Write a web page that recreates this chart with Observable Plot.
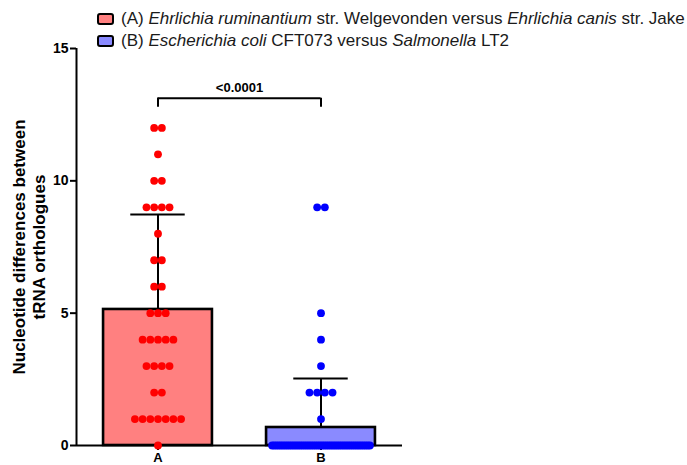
<!DOCTYPE html>
<html>
<head>
<meta charset="utf-8">
<script src="https://cdn.jsdelivr.net/npm/d3@7"></script>
<script src="https://cdn.jsdelivr.net/npm/@observablehq/plot@0.6"></script>
<style>
  html, body { margin: 0; padding: 0; background: #fff; }
  #wrap { position: relative; width: 687px; height: 465px; overflow: hidden; }
  #legend { position: absolute; left: 97px; top: 8px; font-family: "Liberation Sans", Arial, sans-serif; font-size: 17px; color: #1a1a1a; }
  .row { display: flex; align-items: center; height: 22px; white-space: nowrap; }
  .sw { width: 13px; height: 8px; border: 2px solid #000; border-radius: 3px; margin-right: 7px; box-sizing: content-box; }
</style>
</head>
<body>
<div id="wrap"></div>
<script>
// ---- data ----
const categories = ["A", "B"];
const legendLabels = [
  "(A) <i>Ehrlichia ruminantium</i> str. Welgevonden versus <i>Ehrlichia canis</i> str. Jake",
  "(B) <i>Escherichia coli</i> CFT073 versus <i>Salmonella</i> LT2"
];
const barFills = ["#ff8080", "#8a8aff"];
const dotColors = ["#ff0000", "#0000ff"];
// individual tRNA ortholog differences
const valuesA = [12,12,11,10,10,9,9,9,9,8,7,7,6,6,5,5,5,4,4,4,4,4,3,3,3,3,2,2,1,1,1,1,1,1,1,0];
const valuesB = [9,9,5,4,3,2,2,2,2,1].concat(Array(46).fill(0));
// bar height (mean) and error bar (SD)
const means = [5.14, 0.68];
const sds = [3.59, 1.85];
const yTicks = [0, 5, 10, 15];
const yLabel = "Nucleotide differences between\ntRNA orthologues";
const pLabel = "<0.0001";
const bracketY = 13.12;
const bracketDrop = 0.34;

// ---- derived tables ----
const groups = categories.map((c, i) => ({cat: c, pos: i + 1, mean: means[i], top: means[i] + sds[i], fill: barFills[i]}));
const halfBar = 0.334;       // bar half-width in x units
const dotStep = 0.0472;      // spacing of dots in a row
const maxRow = 0.6;          // max row spread
const dots = [];
[valuesA, valuesB].forEach((vals, gi) => {
  const byVal = d3.group(vals, v => v);
  for (const [v, arr] of byVal) {
    const n = arr.length;
    const s = n > 1 ? Math.min(dotStep, maxRow / (n - 1)) : 0;
    arr.forEach((_, j) => dots.push({x: gi + 1 + (j - (n - 1) / 2) * s, y: v, color: dotColors[gi]}));
  }
});

const chart = Plot.plot({
  width: 687,
  height: 465,
  marginLeft: 76,
  marginRight: 285,
  marginTop: 48,
  marginBottom: 20,
  style: {fontFamily: "'Liberation Sans', Arial, sans-serif", fontWeight: "bold", fontSize: "14px", color: "#000", background: "transparent"},
  x: {domain: [0.5, 2.5], axis: null},
  y: {domain: [0, 15], axis: null},
  marks: [
    // error bars (behind bars)
    Plot.ruleX(groups, {x: "pos", y1: "mean", y2: "top", stroke: "#000", strokeWidth: 2}),
    Plot.rectY(groups, {x1: d => d.pos - halfBar, x2: d => d.pos + halfBar, y1: 0, y2: "mean", fill: "fill", stroke: "#000", strokeWidth: 2.6}),
    Plot.ruleY(groups, {x1: d => d.pos - halfBar / 2, x2: d => d.pos + halfBar / 2, y: "top", stroke: "#000", strokeWidth: 2}),
    // axes
    Plot.ruleY([0], {stroke: "#000", strokeWidth: 2}),
    Plot.ruleX([0.5], {y1: 0, y2: 15, stroke: "#000", strokeWidth: 2}),
    Plot.axisY({ticks: yTicks, tickSize: 6, tickPadding: 2, strokeWidth: 2, fontSize: 14, label: null}),
    Plot.axisX({ticks: [1, 2], tickFormat: d => categories[d - 1], tickSize: 5, tickPadding: 2, strokeWidth: 2, fontSize: 13, label: null}),
    Plot.text([yLabel], {frameAnchor: "left", dx: -48, rotate: -90, fontSize: 17, lineHeight: 1.2, textAnchor: "middle", lineAnchor: "middle", fill: "#000"}),
    // dots
    Plot.dot(dots, {x: "x", y: "y", r: 3.9, fill: "color", stroke: null}),
    // significance bracket
    Plot.ruleY([bracketY], {x1: 1, x2: 2, stroke: "#000", strokeWidth: 2}),
    Plot.ruleX([1, 2], {x: d => d, y1: bracketY - bracketDrop, y2: bracketY, stroke: "#000", strokeWidth: 2}),
    Plot.text([pLabel], {x: 1.5, y: bracketY, dy: -6, fontSize: 13, fill: "#000", lineAnchor: "bottom"})
  ]
});

const wrap = document.getElementById("wrap");
wrap.appendChild(chart);
const legend = document.createElement("div");
legend.id = "legend";
legend.innerHTML = legendLabels.map((l, i) => `<div class="row"><span class="sw" style="background:${barFills[i]}"></span><span>${l}</span></div>`).join("");
wrap.appendChild(legend);
chart.style.position = "absolute";
chart.style.left = "0";
chart.style.top = "0";
</script>
</body>
</html>
